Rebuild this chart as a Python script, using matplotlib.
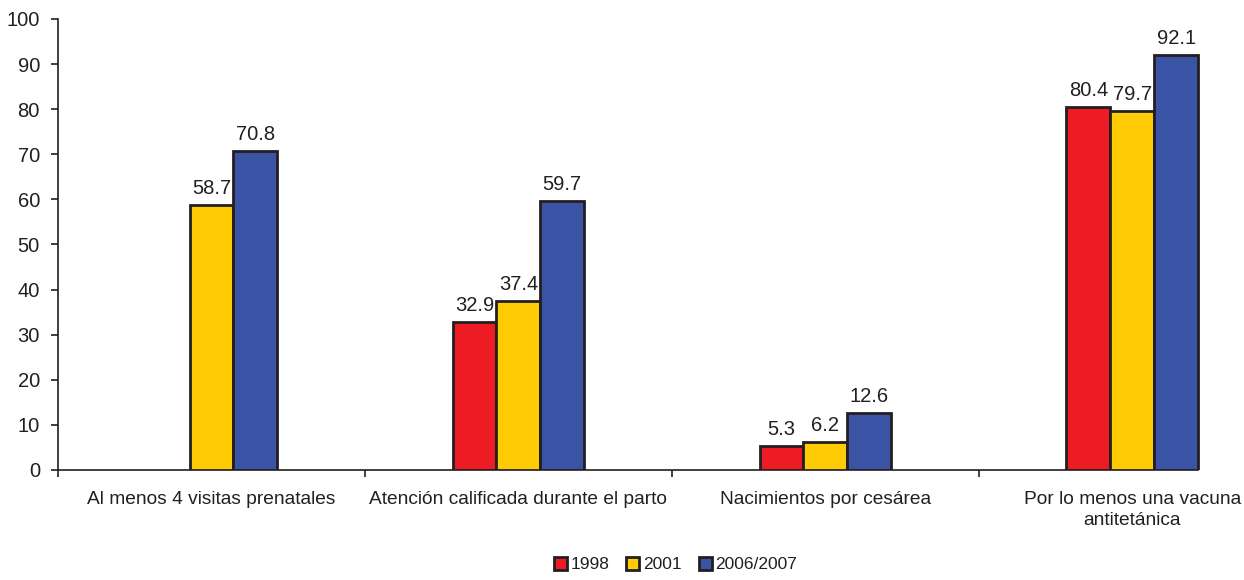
import matplotlib
matplotlib.use("Agg")
import matplotlib.pyplot as plt
import numpy as np

plt.rcParams["font.family"] = ["Liberation Sans", "DejaVu Sans"]

categories = [
    "Al menos 4 visitas prenatales",
    "Atención calificada durante el parto",
    "Nacimientos por cesárea",
    "Por lo menos una vacuna\nantitetánica",
]
series_names = ["1998", "2001", "2006/2007"]
v1998 = [None, 32.9, 5.3, 80.4]
v2001 = [58.7, 37.4, 6.2, 79.7]
v2006 = [70.8, 59.7, 12.6, 92.1]
colors = ["#ED1C24", "#FFCB05", "#3A53A4"]
TXT = "#231F20"

fig = plt.figure(figsize=(12.44, 5.8), dpi=100)
ax = fig.add_axes([0.0466, 0.1897, 0.987, 0.7776])

x = np.arange(len(categories))
w = 0.143
for i, (name, vals, col) in enumerate(zip(series_names, [v1998, v2001, v2006], colors)):
    xs = [xi + (i - 1) * w for xi, v in zip(x, vals) if v is not None]
    ys = [v for v in vals if v is not None]
    bars = ax.bar(xs, ys, width=w, color=col, edgecolor=TXT, linewidth=2,
                  label=name, zorder=3)
    for b, v in zip(bars, ys):
        ax.annotate(f"{v:.1f}", (b.get_x() + b.get_width() / 2, v),
                    xytext=(0, 5), textcoords="offset points",
                    ha="center", va="bottom", fontsize=14.5, color=TXT)

ax.set_xlim(-0.5, 3.5)
ax.set_ylim(0, 100)
ax.set_yticks(range(0, 101, 10))
ax.tick_params(axis="y", labelsize=14.5, colors=TXT, length=5, width=1.2, pad=8)

# category separators as ticks, labels as minor ticks
ax.set_xticks([-0.5, 0.5, 1.5, 2.5])
ax.set_xticklabels([])
ax.set_xticks(x, minor=True)
ax.set_xticklabels(categories, minor=True, fontsize=13.8, color=TXT, linespacing=1.3)
ax.tick_params(axis="x", which="major", length=5, width=1.2, colors=TXT)
ax.tick_params(axis="x", which="minor", length=0, pad=15)

for s in ["top", "right"]:
    ax.spines[s].set_visible(False)
for s in ["left", "bottom"]:
    ax.spines[s].set_color(TXT)
    ax.spines[s].set_linewidth(1.2)
ax.spines["bottom"].set_bounds(-0.5, 3 + 1.5 * w)

leg = fig.legend(loc="lower center", bbox_to_anchor=(0.543, -0.014), ncol=3,
                 frameon=False, fontsize=12.5, handlelength=0.75, handleheight=0.75,
                 handletextpad=0.2, columnspacing=1.0)
for t in leg.get_texts():
    t.set_color(TXT)

fig.savefig("out.png", dpi=100, facecolor="white")
